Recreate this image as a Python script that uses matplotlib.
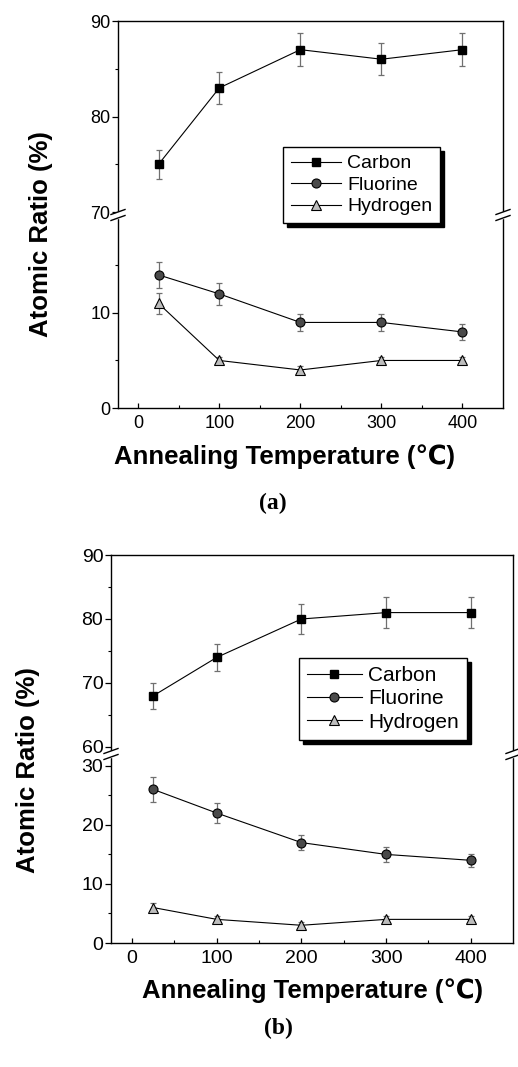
import numpy as np
import matplotlib
matplotlib.use('Agg')
import matplotlib.pyplot as plt
from matplotlib.lines import Line2D
from matplotlib.patches import Rectangle

plt.rcParams['font.family'] = ['Liberation Sans', 'DejaVu Sans']

temps = [25, 100, 200, 300, 400]
names = ['Carbon', 'Fluorine', 'Hydrogen']

# panel (a)
carbon_a = [75, 83, 87, 86, 87]
carbon_a_err = [1.5, 1.7, 1.7, 1.7, 1.7]
fluorine_a = [14, 12, 9, 9, 8]
fluorine_a_err = [1.35, 1.2, 0.9, 0.9, 0.8]
hydrogen_a = [11, 5, 4, 5, 5]
hydrogen_a_err = [1.1, 0.4, 0.4, 0.4, 0.4]

# panel (b)
carbon_b = [68, 74, 80, 81, 81]
carbon_b_err = [2.0, 2.1, 2.3, 2.4, 2.4]
fluorine_b = [26, 22, 17, 15, 14]
fluorine_b_err = [2.05, 1.75, 1.3, 1.3, 1.1]
hydrogen_b = [6, 4, 3, 4, 4]
hydrogen_b_err = [0.8, 0.5, 0.5, 0.5, 0.5]

W, H = 518, 1067
fig = plt.figure(figsize=(W / 100, H / 100), dpi=100)


def fx(px):
    return px / W


def fy(py):
    return 1 - py / H


styles = [dict(marker='s', ms=5.5, mfc='black', mec='black'),
          dict(marker='o', ms=6.5, mfc='#4a4a4a', mec='black', mew=0.8),
          dict(marker='^', ms=7, mfc='#bdbdbd', mec='black', mew=0.8)]


def series(ax, y, err, st):
    ax.errorbar(temps, y, yerr=err, fmt='none', ecolor='#707070',
                elinewidth=0.9, capsize=2, capthick=0.9, zorder=2)
    ln, = ax.plot(temps, y, color='black', lw=0.8, zorder=3, **st)
    return ln


def break_marks(xpx, ypx):
    for x in xpx:
        fig.add_artist(Rectangle((fx(x - 2), fy(ypx + 3)), fx(4), 6 / H,
                                 transform=fig.transFigure, color='white',
                                 zorder=10))
        for dy in (-3, 3):
            yc = ypx + dy
            fig.add_artist(Line2D([fx(x - 7), fx(x + 7)],
                                  [fy(yc + 2.5), fy(yc - 2.5)],
                                  transform=fig.transFigure, color='black',
                                  lw=1.0, zorder=11))


def panel(left, right, top, brk, bottom, up_lim, up_ticks, up_minor,
          lo_lim, lo_ticks, lo_minor, data, fs, leg_box, labels):
    w = fx(right - left)
    ax_up = fig.add_axes([fx(left), fy(brk), w, (brk - top) / H])
    ax_lo = fig.add_axes([fx(left), fy(bottom), w, (bottom - brk) / H])

    (c, ce), (f, fe), (h, he) = data
    handles = [series(ax_up, c, ce, styles[0]),
               series(ax_lo, f, fe, styles[1]),
               series(ax_lo, h, he, styles[2])]

    for ax in (ax_up, ax_lo):
        ax.set_xlim(-25, 450)
        for s in ax.spines.values():
            s.set_linewidth(1.0)
        ax.tick_params(axis='y', direction='out', length=4.5, width=0.9,
                       labelsize=fs, pad=1)
        ax.tick_params(axis='y', which='minor', direction='out', length=2.5,
                       width=0.8)
        ax.tick_params(axis='x', direction='in', length=3.5, width=0.9,
                       labelsize=fs, pad=5)
        ax.tick_params(axis='x', which='minor', direction='in', length=2,
                       width=0.8)

    ax_up.set_ylim(*up_lim)
    ax_up.set_yticks(up_ticks)
    ax_up.set_yticks(up_minor, minor=True)
    ax_up.spines['bottom'].set_visible(False)
    ax_up.tick_params(axis='x', which='both', bottom=False, labelbottom=False)

    ax_lo.set_ylim(*lo_lim)
    ax_lo.set_yticks(lo_ticks)
    ax_lo.set_yticks(lo_minor, minor=True)
    ax_lo.spines['top'].set_visible(False)
    ax_lo.set_xticks([0, 100, 200, 300, 400])
    ax_lo.set_xticks([50, 150, 250, 350], minor=True)

    break_marks([left, right], brk)

    lx, ly = leg_box
    fig.legend(handles, names, loc='upper left',
               bbox_to_anchor=(fx(lx), fy(ly)), fontsize=fs + 1,
               frameon=True, fancybox=False, edgecolor='black',
               framealpha=1, borderpad=0.4, labelspacing=0.2,
               handlelength=2.6, handletextpad=0.3, borderaxespad=0,
               shadow={'color': 'black', 'alpha': 1, 'ox': 2.8, 'oy': -2.8})

    (ylx, yly), (xlx, xly), (plx, ply), tag = labels
    fig.text(fx(ylx), fy(yly), 'Atomic Ratio (%)', rotation=90,
             ha='center', va='center', fontsize=18.5, fontweight='bold')
    fig.text(fx(xlx), fy(xly), 'Annealing Temperature (\u2103)',
             ha='center', va='center', fontsize=18.5, fontweight='bold')
    fig.text(fx(plx), fy(ply), tag, ha='center', va='center',
             fontsize=17, fontweight='bold', family='Liberation Serif')


panel(118, 503, 21, 215, 408,
      (69.7, 90), [70, 80, 90], [75, 85],
      (0, 20.3), [0, 10], [5, 15],
      [(carbon_a, carbon_a_err), (fluorine_a, fluorine_a_err),
       (hydrogen_a, hydrogen_a_err)],
      13, (283, 147),
      [(41, 234), (285, 457), (273, 503), '(a)'])

panel(111, 513, 555, 754, 943,
      (58.9, 90), [60, 70, 80, 90], [65, 75, 85],
      (0, 32), [0, 10, 20, 30], [5, 15, 25],
      [(carbon_b, carbon_b_err), (fluorine_b, fluorine_b_err),
       (hydrogen_b, hydrogen_b_err)],
      14, (299, 658),
      [(28, 770), (313, 991), (278, 1028), '(b)'])

fig.savefig('out.png', dpi=100)
